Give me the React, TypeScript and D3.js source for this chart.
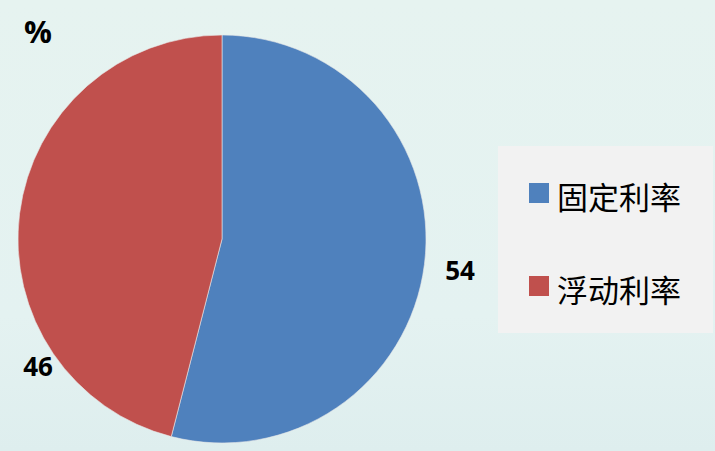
import React, { useEffect, useRef } from 'react';
import * as d3 from 'd3';

const categories = ['固定利率', '浮动利率'];
const values = [54, 46];
const colors = ['#4f81bd', '#c0504d'];
const unitLabel = '%';

const width = 715;
const height = 451;

const App = () => {
  const svgRef = useRef<SVGSVGElement>(null);

  useEffect(() => {
    const svg = d3.select(svgRef.current);
    svg.selectAll('*').remove();

    // 背景
    const defs = svg.append('defs');
    const grad = defs.append('linearGradient')
      .attr('id', 'bg')
      .attr('x1', 0).attr('y1', 0).attr('x2', 0).attr('y2', 1);
    grad.append('stop').attr('offset', '0%').attr('stop-color', '#e6f3f0');
    grad.append('stop').attr('offset', '70%').attr('stop-color', '#e4f2f1');
    grad.append('stop').attr('offset', '100%').attr('stop-color', '#deeeee');
    svg.append('rect')
      .attr('width', width).attr('height', height)
      .attr('fill', 'url(#bg)');

    // pie
    const cx = 222, cy = 239, r = 204;
    const pie = d3.pie<number>().sort(null).value(d => d);
    const arc = d3.arc<d3.PieArcDatum<number>>().innerRadius(0).outerRadius(r);
    const arcs = pie(values);

    const g = svg.append('g').attr('transform', `translate(${cx},${cy})`);
    g.selectAll('path')
      .data(arcs)
      .join('path')
      .attr('d', arc)
      .attr('fill', (d, i) => colors[i])
      .attr('stroke', '#e8e8e8')
      .attr('stroke-width', 0.6);

    // 数値ラベル
    const labelPos = [[460, 270], [38, 366]];
    svg.selectAll('.val')
      .data(values)
      .join('text')
      .attr('class', 'val')
      .attr('x', (d, i) => labelPos[i][0])
      .attr('y', (d, i) => labelPos[i][1])
      .attr('text-anchor', 'middle')
      .attr('dominant-baseline', 'central')
      .attr('font-family', 'Open Sans, Noto Sans, sans-serif')
      .attr('font-weight', 'bold')
      .attr('font-size', 26)
      .attr('fill', '#000')
      .text(d => d);

    svg.append('text')
      .attr('x', 38).attr('y', 31)
      .attr('text-anchor', 'middle')
      .attr('dominant-baseline', 'central')
      .attr('font-family', 'Open Sans, Noto Sans, sans-serif')
      .attr('font-weight', 'bold')
      .attr('font-size', 31)
      .attr('fill', '#000')
      .text(unitLabel);

    // legend
    const lg = svg.append('g');
    lg.append('rect')
      .attr('x', 498).attr('y', 146)
      .attr('width', 215).attr('height', 187)
      .attr('fill', '#f2f2f2');
    const rowY = [193, 286];
    const items = lg.selectAll('.item')
      .data(categories)
      .join('g')
      .attr('class', 'item')
      .attr('transform', (d, i) => `translate(529,${rowY[i]})`);
    items.append('rect')
      .attr('x', 0).attr('y', -10)
      .attr('width', 20).attr('height', 20)
      .attr('fill', (d, i) => colors[i]);
    items.append('text')
      .attr('x', 28).attr('y', 2)
      .attr('dominant-baseline', 'central')
      .attr('font-family', 'Noto Sans CJK SC, sans-serif')
      .attr('font-size', 31)
      .attr('fill', '#000')
      .text(d => d);
  }, []);

  return (
    <svg ref={svgRef} width={width} height={height} style={{ display: 'block', position: 'absolute', left: 0, top: 0 }} />
  );
};

export default App;
